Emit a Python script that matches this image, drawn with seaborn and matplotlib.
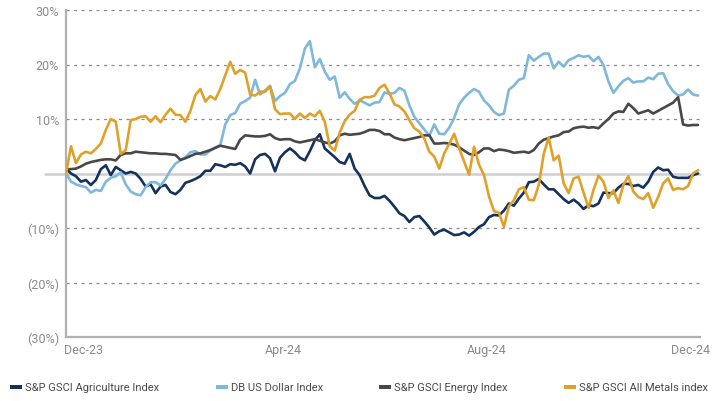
import numpy as np
import pandas as pd
import matplotlib
matplotlib.use("Agg")
import matplotlib.pyplot as plt
from matplotlib import font_manager as fm
from matplotlib.patches import Rectangle
import seaborn as sns

# ---------------- data (cumulative % change, Dec-23 .. Dec-24) ----------------
series_names = ["S&P GSCI Agriculture Index", "DB US Dollar Index",
                "S&P GSCI Energy Index", "S&P GSCI All Metals index"]

agriculture = [0.9, 0.0, -0.5, -1.5, -1.2, -2.1, -1.2, 0.8, 1.5, -0.3,
               1.2, 0.6, 0.0, 0.3, 0.0, -1.0, -2.4, -2.0, -3.6, -2.4,
               -2.1, -3.4, -3.8, -3.0, -1.7, -1.4, -1.0, -0.5, 0.5, 0.5,
               1.7, 1.5, 1.2, 1.7, 1.6, 1.9, 1.3, 0.0, 2.6, 3.4,
               3.6, 2.8, 0.4, 2.9, 3.9, 4.6, 3.9, 2.9, 2.4, 4.1,
               6.1, 7.2, 4.6, 3.8, 3.0, 2.1, 1.8, 3.6, 0.9, -0.3,
               -2.3, -4.0, -4.5, -4.5, -4.1, -5.0, -6.1, -7.3, -7.8, -8.9,
               -8.0, -7.8, -8.8, -9.9, -11.2, -10.6, -10.3, -10.8, -11.3, -11.2,
               -10.8, -11.4, -10.7, -9.8, -9.3, -8.0, -7.6, -7.7, -6.8, -5.5,
               -5.9, -4.6, -3.5, -1.6, -1.5, -1.0, -2.0, -2.9, -2.9, -3.8,
               -4.7, -5.4, -4.8, -5.5, -6.5, -5.8, -6.0, -5.5, -3.5, -3.6,
               -3.6, -2.6, -1.9, -1.9, -2.3, -2.1, -2.6, -1.5, 0.3, 1.1,
               0.6, 0.7, -0.6, -0.8, -0.8, -0.8, -0.3, 0.0]

dollar = [0.0, -1.5, -2.0, -2.3, -2.5, -3.5, -3.0, -3.2, -1.5, -0.8,
          -0.5, 0.2, -2.0, -3.3, -3.8, -4.0, -2.5, -1.6, -1.6, -2.2,
          -1.0, 0.6, 1.8, 2.4, 3.0, 3.9, 4.1, 3.5, 3.5, 4.2,
          4.8, 5.2, 9.0, 10.7, 11.1, 12.8, 13.3, 13.9, 17.2, 14.5,
          15.2, 16.1, 13.3, 14.2, 14.8, 16.4, 17.0, 19.3, 22.9, 24.3,
          19.5, 21.0, 18.7, 17.2, 17.8, 13.9, 14.9, 13.7, 12.8, 13.4,
          13.0, 12.5, 13.0, 13.1, 14.9, 14.6, 14.8, 15.7, 15.2, 12.5,
          10.4, 9.2, 8.1, 6.9, 9.0, 7.3, 7.2, 8.4, 10.2, 12.7,
          13.9, 14.8, 15.5, 15.0, 13.4, 12.5, 11.3, 10.7, 11.0, 15.4,
          16.1, 17.2, 17.5, 21.7, 20.7, 21.4, 22.0, 22.0, 19.3, 20.5,
          19.6, 20.8, 21.2, 21.7, 21.4, 21.6, 20.6, 21.4, 19.9, 16.9,
          14.8, 16.0, 17.0, 17.5, 16.7, 16.9, 16.9, 17.6, 17.3, 18.3,
          18.4, 16.4, 15.1, 14.3, 14.5, 15.4, 14.5, 14.3]

energy = [0.8, 0.8, 0.9, 1.3, 1.8, 2.1, 2.3, 2.5, 2.6, 2.6,
          2.4, 3.4, 3.7, 3.7, 4.0, 3.9, 3.8, 3.7, 3.7, 3.6,
          3.6, 3.5, 3.4, 2.5, 2.8, 3.2, 3.6, 3.7, 4.0, 4.3,
          4.7, 5.1, 4.9, 4.7, 4.5, 6.2, 7.0, 6.9, 6.8, 6.8,
          6.9, 7.2, 6.5, 6.2, 6.3, 6.3, 5.9, 5.7, 5.9, 6.1,
          6.3, 6.0, 5.7, 5.5, 5.9, 7.0, 7.3, 7.1, 7.2, 7.3,
          7.6, 8.0, 8.0, 7.8, 7.2, 7.2, 6.6, 6.3, 6.1, 6.3,
          6.5, 6.7, 7.0, 7.0, 5.5, 5.5, 5.6, 5.5, 5.3, 4.8,
          4.2, 3.6, 3.4, 3.9, 4.6, 4.6, 4.1, 4.4, 4.3, 4.1,
          3.8, 3.9, 4.0, 3.8, 4.3, 5.5, 6.2, 6.5, 6.8, 7.0,
          7.6, 7.7, 8.3, 8.5, 8.6, 8.4, 8.5, 8.3, 9.2, 10.0,
          11.0, 11.4, 11.3, 12.8, 12.0, 11.0, 11.3, 11.6, 11.0, 11.5,
          12.0, 12.5, 13.0, 14.0, 9.0, 8.8, 8.9, 8.9]

metals = [0.0, 5.0, 1.9, 3.5, 4.0, 3.7, 4.5, 5.5, 8.0, 10.0,
          9.5, 3.6, 4.3, 9.8, 10.0, 10.4, 10.5, 9.5, 10.5, 9.4,
          10.8, 11.9, 10.8, 10.7, 9.5, 11.5, 14.4, 15.5, 13.2, 14.2,
          13.6, 15.5, 18.0, 20.5, 18.3, 19.0, 18.5, 14.5, 14.3, 15.0,
          15.0, 16.0, 11.8, 10.9, 11.0, 11.0, 10.0, 11.0, 10.2, 11.0,
          10.5, 11.5, 9.5, 5.0, 4.2, 7.5, 9.6, 10.8, 11.5, 13.5,
          14.0, 14.0, 14.3, 15.7, 16.3, 14.7, 12.7, 12.3, 11.4, 9.8,
          8.3, 7.7, 6.4, 4.0, 3.1, 0.9, 3.7, 5.4, 7.3, 4.6,
          2.2, -0.2, 4.9, 1.6, -0.3, -4.2, -6.9, -7.2, -9.8, -6.0,
          -4.9, -2.9, -2.5, -4.8, -4.9, -2.1, 3.6, 6.6, 2.4, 3.3,
          -1.8, -3.6, -0.9, -0.6, -3.5, -6.3, -3.0, -0.4, -1.5, -4.5,
          -3.1, -5.4, -2.1, -0.5, -3.3, -4.3, -4.7, -3.6, -6.3, -4.3,
          -1.8, -0.9, -3.0, -2.7, -2.9, -2.3, 0.0, 0.6]

colors = ["#15325c", "#7fb8da", "#484848", "#e0a12b"]

y_ticks = [30, 20, 10, 0, -10, -20, -30]
y_labels = ["30%", "20%", "10%", "", "(10%)", "(20%)", "(30%)"]
x_tick_labels = ["Dec-23", "Apr-24", "Aug-24", "Dec-24"]
x_tick_pos = [3.6, 43.6, 84.6, 125.4]

# ---------------- build long table ----------------
frames = []
for name, vals in zip(series_names, [agriculture, dollar, energy, metals]):
    frames.append(pd.DataFrame({"t": np.arange(len(vals)), "value": vals, "series": name}))
df = pd.concat(frames, ignore_index=True)

sns.set_style("white")
plt.rcParams["font.family"] = ["Roboto", "DejaVu Sans"]
fp = fm.FontProperties(family=["Roboto", "DejaVu Sans"])

W, H = 724, 402
fig = plt.figure(figsize=(W / 100, H / 100), dpi=100)
ax = fig.add_axes([66 / W, 1 - 338 / H, (700 - 66) / W, (338 - 11) / H])

# grid lines
for v in [30, 20, 10, -10, -20]:
    ax.axhline(v, color="#8c8c8c", lw=0.9, ls=(0, (2.5, 3.5)), zorder=0)
ax.axhline(0, xmin=-21 / 634, xmax=1, color="#cfcfcf", lw=1.8, zorder=0, clip_on=False)

sns.lineplot(data=df, x="t", y="value", hue="series", hue_order=series_names,
             palette=colors, lw=1.9, ax=ax, legend=False, zorder=3)

ax.set_xlim(0, len(metals) - 1 + 0.4)
ax.set_ylim(-30, 30)
ax.set_yticks(y_ticks)
ax.set_yticklabels(y_labels)
ax.set_xticks(x_tick_pos)
ax.set_xticklabels(x_tick_labels)
ax.set_xlabel("")
ax.set_ylabel("")
ax.tick_params(axis="both", length=0, labelcolor="#8a8a8a", labelsize=9)
ax.tick_params(axis="y", pad=5)
ax.tick_params(axis="x", pad=4)

for s in ["top", "right"]:
    ax.spines[s].set_visible(False)
for s in ["left", "bottom"]:
    ax.spines[s].set_color("#b0b0b0")
    ax.spines[s].set_linewidth(1.6)

# legend: colour chip + label, spread across the width like the reference
leg_y = 388
leg_left, leg_right = 10, 708
chip_w, chip_gap = 12, 3
texts = []
for name in series_names:
    texts.append(fig.text(0, 1 - leg_y / H, name, fontproperties=fp, fontsize=8,
                          color="#4a4a4a", ha="left", va="center"))
renderer = fig.canvas.get_renderer()
widths = [t.get_window_extent(renderer).width for t in texts]
total = sum(widths) + len(texts) * (chip_w + chip_gap)
gap = (leg_right - leg_left - total) / (len(texts) - 1)
x = leg_left
for t, w, c in zip(texts, widths, colors):
    fig.patches.append(Rectangle((x / W, 1 - (leg_y + 2) / H), chip_w / W, 4 / H,
                                 transform=fig.transFigure, color=c, lw=0))
    t.set_x((x + chip_w + chip_gap) / W)
    x += chip_w + chip_gap + w + gap

fig.savefig("out.png", dpi=100)
